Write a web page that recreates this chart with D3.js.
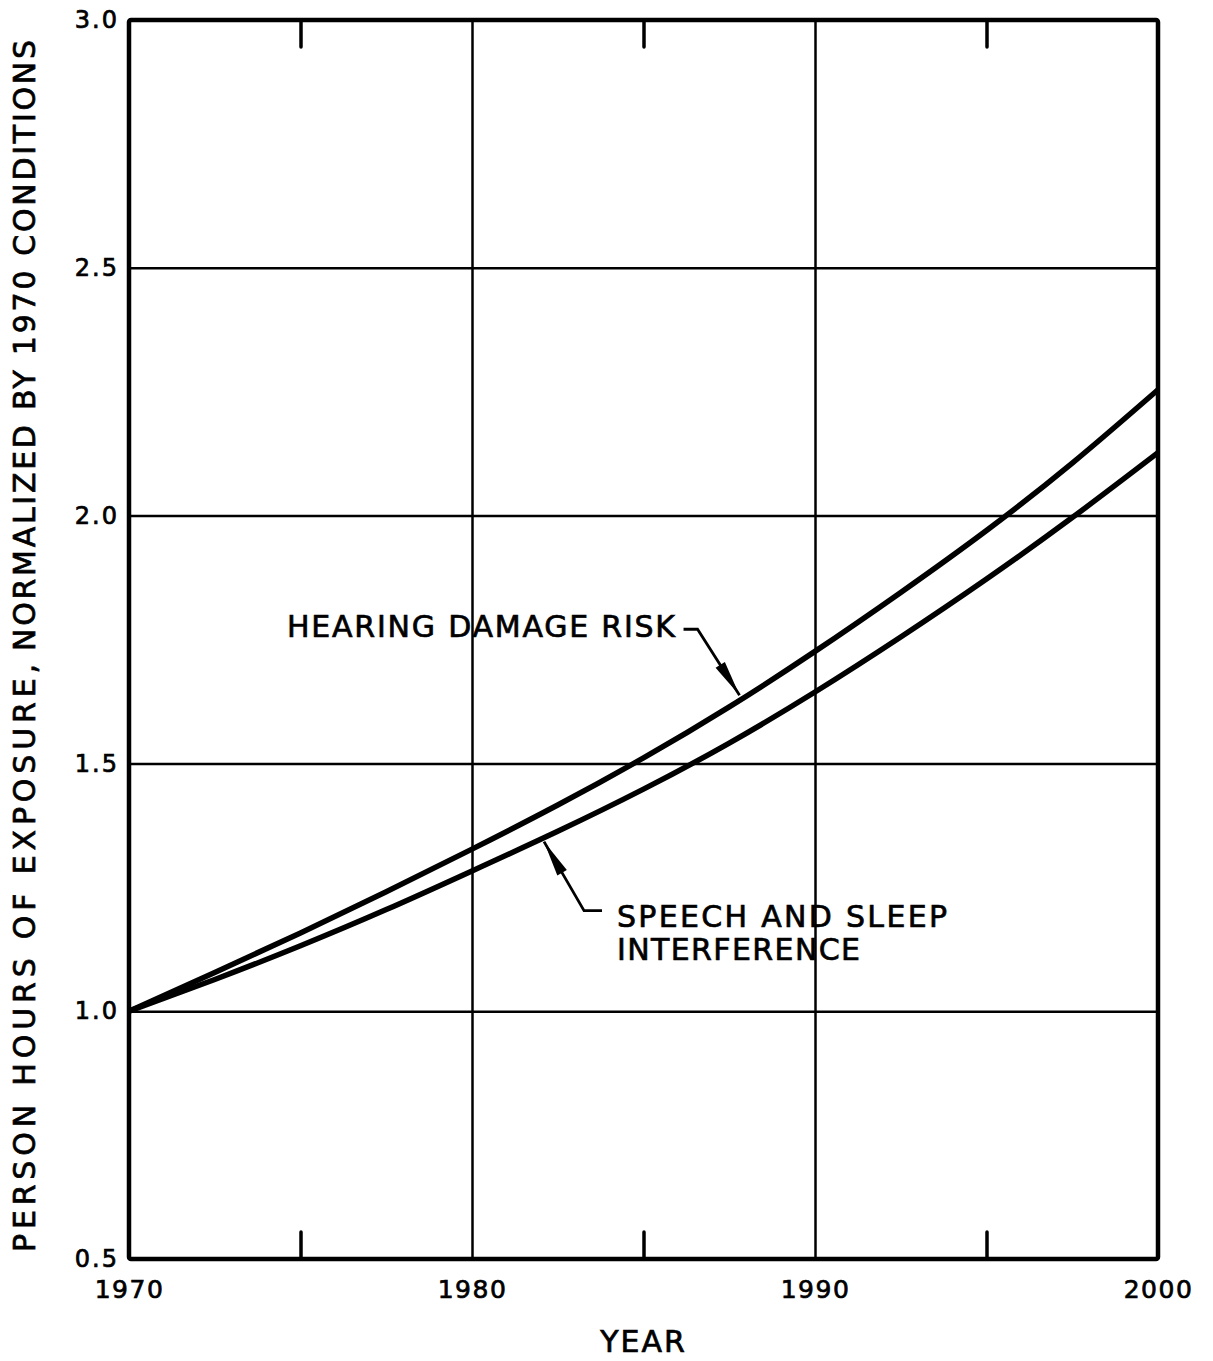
<!DOCTYPE html>
<html>
<head>
<meta charset="utf-8">
<script src="https://cdn.jsdelivr.net/npm/d3@7"></script>
<style>
  html, body { margin: 0; padding: 0; background: #fff; }
  svg { display: block; }
  text { font-family: "DejaVu Sans", "Liberation Sans", sans-serif; fill: #000; stroke: #000; stroke-width: 0.7px; }
</style>
</head>
<body>
<svg id="chart" width="1213" height="1361"></svg>
<script>
// ---- data ----
const years = [1970, 1972.5, 1975, 1977.5, 1980, 1982.5, 1985, 1987.5, 1990, 1992.5, 1995, 1997.5, 2000];
const hearingDamageRisk = [1.0, 1.078, 1.158, 1.241, 1.327, 1.416, 1.511, 1.614, 1.726, 1.845, 1.970, 2.106, 2.254];
const speechSleepInterference = [1.0, 1.064, 1.132, 1.205, 1.283, 1.363, 1.448, 1.541, 1.644, 1.755, 1.872, 1.996, 2.127];
const xTickValues = [1970, 1980, 1990, 2000];
const xMinorTicks = [1975, 1985, 1995];
const yTickValues = [0.5, 1.0, 1.5, 2.0, 2.5, 3.0];
const yGridValues = [1.0, 1.5, 2.0, 2.5];
const xGridValues = [1980, 1990];
const labelHearing = "HEARING DAMAGE RISK";
const labelSpeech = ["SPEECH AND SLEEP", "INTERFERENCE"];
const hearingArrowYear = 1987.8;
const speechArrowYear = 1982.1;
const yTitleParts = ["PERSON HOURS OF EXPOSURE,", "NORMALIZED BY 1970 CONDITIONS"];
const xTitle = "YEAR";

// ---- layout ----
const svg = d3.select("#chart");
const x = d3.scaleLinear().domain([1970, 2000]).range([129, 1158]);
const y = d3.scaleLinear().domain([0.5, 3.0]).range([1259, 20]);
const W = x(2000) - x(1970), H = y(0.5) - y(3.0);

// grid lines
const gy = svg.append("g").attr("transform", `translate(${x(1970)},0)`)
  .call(d3.axisLeft(y).tickValues(yGridValues).tickSize(-W).tickFormat(""));
gy.select(".domain").remove();
gy.selectAll("line").attr("stroke", "#000").attr("stroke-width", 2.5);

const gx = svg.append("g").attr("transform", `translate(0,${y(0.5)})`)
  .call(d3.axisBottom(x).tickValues(xGridValues).tickSize(-H).tickFormat(""));
gx.select(".domain").remove();
gx.selectAll("line").attr("stroke", "#000").attr("stroke-width", 2.5);

// minor ticks (inside, top and bottom)
const mb = svg.append("g").attr("transform", `translate(0,${y(0.5)})`)
  .call(d3.axisBottom(x).tickValues(xMinorTicks).tickSize(-27).tickFormat(""));
mb.select(".domain").remove();
mb.selectAll("line").attr("stroke", "#000").attr("stroke-width", 3.5).attr("stroke-linecap", "round");
const mt = svg.append("g").attr("transform", `translate(0,${y(3.0)})`)
  .call(d3.axisTop(x).tickValues(xMinorTicks).tickSize(-27).tickFormat(""));
mt.select(".domain").remove();
mt.selectAll("line").attr("stroke", "#000").attr("stroke-width", 3.5).attr("stroke-linecap", "round");

// curves
const line = d3.line().x((d, i) => x(years[i])).y(d => y(d)).curve(d3.curveNatural);
[hearingDamageRisk, speechSleepInterference].forEach(series => {
  svg.append("path").datum(series)
    .attr("d", line)
    .attr("fill", "none").attr("stroke", "#000").attr("stroke-width", 5.5)
    .attr("stroke-linejoin", "round");
});

// frame
svg.append("rect")
  .attr("x", x(1970)).attr("y", y(3.0)).attr("width", W).attr("height", H)
  .attr("fill", "none").attr("stroke", "#000").attr("stroke-width", 4.5).attr("rx", 2);

// tick labels
const ly = svg.append("g").attr("transform", `translate(${x(1970)},0)`)
  .call(d3.axisLeft(y).tickValues(yTickValues).tickSize(0).tickPadding(10).tickFormat(d3.format(".1f")));
ly.select(".domain").remove();
ly.selectAll("text").attr("font-size", 24).attr("letter-spacing", 2).attr("font-family", "DejaVu Sans").attr("fill", "#000");

const lx = svg.append("g").attr("transform", `translate(0,${y(0.5)})`)
  .call(d3.axisBottom(x).tickValues(xTickValues).tickSize(0).tickPadding(21).tickFormat(d3.format("d")));
lx.select(".domain").remove();
lx.selectAll("text").attr("font-size", 25).attr("letter-spacing", 1.5).attr("font-family", "DejaVu Sans").attr("fill", "#000");

// axis titles
svg.append("text")
  .attr("transform", `translate(${x(1985)},1352)`)
  .attr("text-anchor", "middle").attr("font-size", 30).attr("letter-spacing", 2)
  .text(xTitle);

svg.append("text")
  .attr("transform", "translate(35,1252) rotate(-90)")
  .attr("font-size", 30).attr("textLength", 588).attr("lengthAdjust", "spacing")
  .text(yTitleParts[0]);
svg.append("text")
  .attr("transform", "translate(35,651) rotate(-90)")
  .attr("font-size", 30).attr("textLength", 611).attr("lengthAdjust", "spacing")
  .text(yTitleParts[1]);

// annotations
function interp(series, yr) {
  const i = d3.bisectRight(years, yr) - 1;
  const t = (yr - years[i]) / (years[i + 1] - years[i]);
  return series[i] + t * (series[i + 1] - series[i]);
}
function arrowHead(tip, from, len, half) {
  const dx = from[0] - tip[0], dy = from[1] - tip[1];
  const L = Math.hypot(dx, dy), ux = dx / L, uy = dy / L;
  const bx = tip[0] + ux * len, by = tip[1] + uy * len;
  return `M${tip[0]},${tip[1]}L${bx - uy * half},${by + ux * half}L${bx + uy * half},${by - ux * half}Z`;
}

// Hearing damage risk
{
  const tip = [x(hearingArrowYear), y(interp(hearingDamageRisk, hearingArrowYear)) - 5];
  const elbow = [tip[0] - 42, tip[1] - 66];
  const start = [elbow[0] - 14, elbow[1]];
  svg.append("path").attr("d", d3.line()([start, elbow, tip]))
    .attr("fill", "none").attr("stroke", "#000").attr("stroke-width", 2.8);
  svg.append("path").attr("d", arrowHead(tip, elbow, 36, 5.5)).attr("fill", "#000");
  svg.append("text").attr("x", 287).attr("y", 637)
    .attr("font-size", 30).attr("textLength", 388).attr("lengthAdjust", "spacing")
    .text(labelHearing);
}
// Speech and sleep interference
{
  const tip = [x(speechArrowYear), y(interp(speechSleepInterference, speechArrowYear)) + 4];
  const elbow = [tip[0] + 40, tip[1] + 69];
  const end = [elbow[0] + 18, elbow[1]];
  svg.append("path").attr("d", d3.line()([tip, elbow, end]))
    .attr("fill", "none").attr("stroke", "#000").attr("stroke-width", 2.8);
  svg.append("path").attr("d", arrowHead(tip, elbow, 36, 5.5)).attr("fill", "#000");
  svg.append("text").attr("x", 617).attr("y", 927)
    .attr("font-size", 30).attr("textLength", 330).attr("lengthAdjust", "spacing")
    .text(labelSpeech[0]);
  svg.append("text").attr("x", 617).attr("y", 960)
    .attr("font-size", 30).attr("textLength", 243).attr("lengthAdjust", "spacing")
    .text(labelSpeech[1]);
}
</script>
</body>
</html>
